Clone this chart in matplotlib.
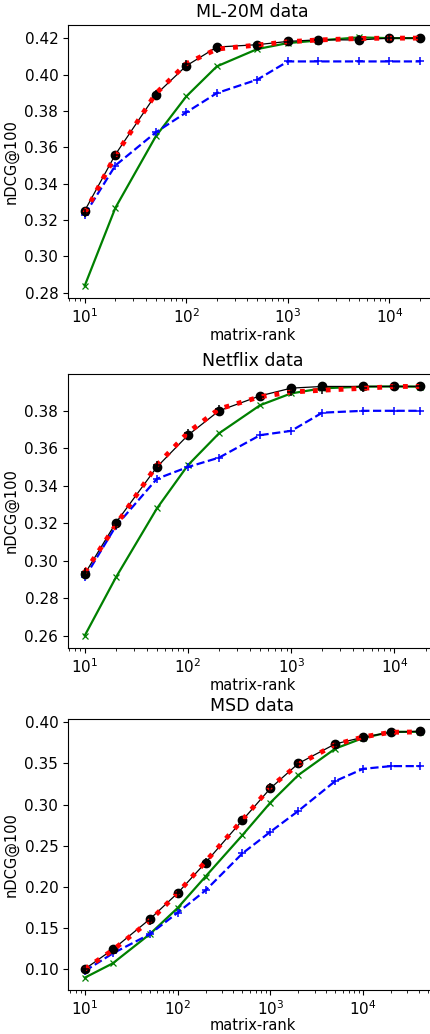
import matplotlib
matplotlib.use("Agg")
import matplotlib.pyplot as plt

# ---------------- data ----------------
ml_x = [10, 20, 50, 100, 200, 500, 1000, 2000, 5000, 10000, 20108]
ml_black = [0.3252, 0.3560, 0.3889, 0.4048, 0.4151, 0.4164, 0.4182, 0.4191, 0.4190, 0.4200, 0.4200]
ml_red = [0.3239, 0.3555, 0.3895, 0.4060, 0.4140, 0.4162, 0.4180, 0.4190, 0.4198, 0.4200, 0.4200]
ml_green = [0.2840, 0.3267, 0.3660, 0.3880, 0.4045, 0.4140, 0.4173, 0.4187, 0.4204, 0.4200, 0.4200]
ml_blue = [0.3230, 0.3500, 0.3682, 0.3792, 0.3898, 0.3972, 0.4072, 0.4072, 0.4072, 0.4072, 0.4072]

nf_x = [10, 20, 50, 100, 200, 500, 1000, 2000, 5000, 10000, 17770]
nf_black = [0.2929, 0.3202, 0.3500, 0.3670, 0.3800, 0.3880, 0.3921, 0.3930, 0.3930, 0.3930, 0.3930]
nf_red = [0.2938, 0.3190, 0.3510, 0.3684, 0.3810, 0.3875, 0.3900, 0.3910, 0.3920, 0.3930, 0.3930]
nf_green = [0.2600, 0.2910, 0.3279, 0.3510, 0.3680, 0.3830, 0.3893, 0.3920, 0.3929, 0.3930, 0.3929]
nf_blue = [0.2910, 0.3184, 0.3437, 0.3500, 0.3550, 0.3670, 0.3693, 0.3790, 0.3800, 0.3800, 0.3800]

msd_x = [10, 20, 50, 100, 200, 500, 1000, 2000, 5000, 10000, 20000, 41140]
msd_black = [0.1000, 0.1238, 0.1605, 0.1923, 0.2294, 0.2810, 0.3198, 0.3500, 0.3738, 0.3819, 0.3880, 0.3891]
msd_red = [0.1000, 0.1230, 0.1585, 0.1923, 0.2306, 0.2814, 0.3214, 0.3488, 0.3730, 0.3823, 0.3880, 0.3883]
msd_green = [0.0895, 0.1069, 0.1423, 0.1742, 0.2125, 0.2629, 0.3024, 0.3359, 0.3681, 0.3810, 0.3885, 0.3885]
msd_blue = [0.0976, 0.1190, 0.1423, 0.1685, 0.1956, 0.2407, 0.2669, 0.2923, 0.3286, 0.3435, 0.3468, 0.3468]

titles = ["ML-20M data", "Netflix data", "MSD data"]
panels = [
    (ml_x, ml_black, ml_red, ml_green, ml_blue),
    (nf_x, nf_black, nf_red, nf_green, nf_blue),
    (msd_x, msd_black, msd_red, msd_green, msd_blue),
]

# ---------------- figure ----------------
W, H = 431, 1034
fig = plt.figure(figsize=(W / 100, H / 100), dpi=100)

tops = [25, 374, 719]
bottoms = [298, 648, 990]
left_px, right_px = 68, 437

for i, (x, kb, r, g, b) in enumerate(panels):
    ax = fig.add_axes([left_px / W, 1 - bottoms[i] / H,
                       (right_px - left_px) / W, (bottoms[i] - tops[i]) / H])
    ax.plot(x, g, '-', color='green', lw=1.6, marker='x', ms=4.5, mew=0.9)
    ax.plot(x, b, '--', color='blue', lw=1.6, marker='+', ms=5.5, mew=1.1)
    ax.plot(x, kb, '-', color='black', lw=0.9, marker='o', ms=6)
    ax.plot(x, r, ':', color='red', lw=3.5, marker='+', ms=5.5, mew=1.1, mec='black')
    ax.set_xscale('log')
    ax.set_title(titles[i], fontsize=12.5)
    ax.set_xlabel('matrix-rank', fontsize=10.5, labelpad=1 if i < 2 else 0)
    ax.set_ylabel('nDCG@100', fontsize=10.5)
    ax.tick_params(labelsize=11)

fig.savefig('out.png', dpi=100)
